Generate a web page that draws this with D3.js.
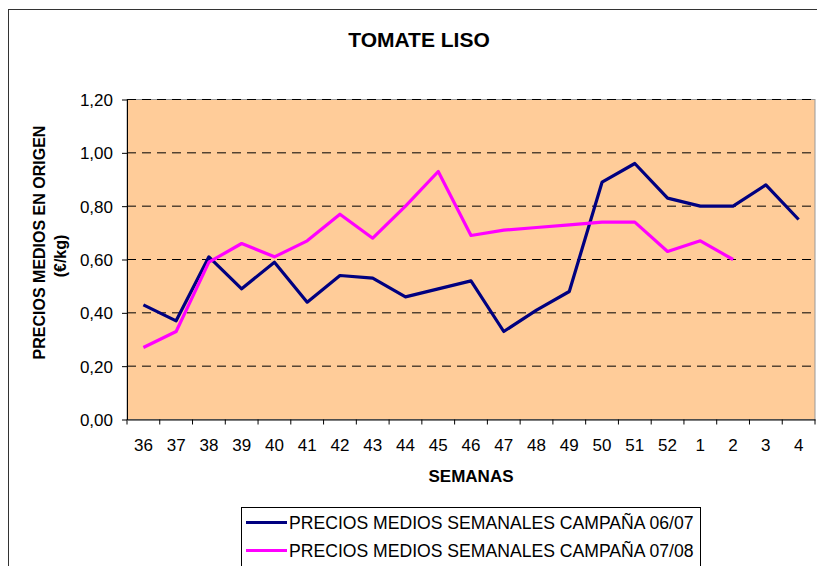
<!DOCTYPE html>
<html>
<head>
<meta charset="utf-8">
<script src="https://cdn.jsdelivr.net/npm/d3@7"></script>
<style>
  body { margin: 0; background: #fff; }
  svg { display: block; font-family: "Liberation Sans", Arial, sans-serif; }
</style>
</head>
<body>
<div class="g-graphic"></div>
<script>
var weeks = ["36","37","38","39","40","41","42","43","44","45","46","47","48","49","50","51","52","1","2","3","4"];
var campana0607 = [0.43,0.37,0.61,0.49,0.59,0.44,0.54,0.53,0.46,0.49,0.52,0.33,0.41,0.48,0.89,0.96,0.83,0.80,0.80,0.88,0.75];
var campana0708 = [0.27,0.33,0.59,0.66,0.61,0.67,0.77,0.68,0.80,0.93,0.69,0.71,0.72,0.73,0.74,0.74,0.63,0.67,0.60,null,null];
var yTicks = [0,0.2,0.4,0.6,0.8,1.0,1.2];
var seriesNames = ["PRECIOS MEDIOS SEMANALES CAMPAÑA 06/07","PRECIOS MEDIOS SEMANALES CAMPAÑA 07/08"];
var seriesColors = ["#000080","#ff00ff"];

(function(d3) {
    "use strict";

    var margin = {
        top: 99.5,
        right: 2,
        bottom: 146.5,
        left: 127
    },
    W = 817,
    H = 566,
    width = W - margin.left - margin.right,
    height = H - margin.top - margin.bottom;

    var formatComma = function(d) { return d3.format(".2f")(d).replace(".", ","); };

    var svg = d3.select(".g-graphic").append("svg")
        .attr("width", W)
        .attr("height", H);

    // outer chart border (right/bottom run off the picture)
    svg.append("rect")
        .attr("x", 8.5).attr("y", 9.5)
        .attr("width", W + 20).attr("height", H + 20)
        .attr("fill", "#fff").attr("stroke", "#333");

    svg.append("text")
        .attr("x", 419).attr("y", 46.5)
        .attr("text-anchor", "middle")
        .style("font-size", "21px").style("font-weight", "bold")
        .text("TOMATE LISO");

    var x = d3.scaleBand().domain(weeks).range([0, width]);
    var y = d3.scaleLinear().domain([0, 1.2]).range([height, 0]);

    var g = svg.append("g")
        .attr("transform", "translate(" + margin.left + "," + margin.top + ")");

    g.append("rect")
        .attr("width", width).attr("height", height)
        .attr("fill", "#ffcc99").attr("stroke", "#999").attr("stroke-width", 1);

    // gridlines
    g.append("g").selectAll("line")
        .data(yTicks.filter(function(d) { return d > 0; }))
        .enter().append("line")
        .attr("x1", 0).attr("x2", width)
        .attr("y1", function(d) { return y(d); })
        .attr("y2", function(d) { return y(d); })
        .attr("stroke", "#000").attr("stroke-dasharray", "9,6");

    // y axis
    var yAxis = d3.axisLeft(y).tickValues(yTicks).tickFormat(formatComma)
        .tickSize(5).tickSizeOuter(0).tickPadding(9);
    g.append("g").attr("class", "y axis").call(yAxis)
        .call(function(s) {
            s.select(".domain").attr("stroke", "#000");
            s.selectAll("text").style("font-size", "17px").attr("fill", "#000").attr("dy", "0.36em");
        });

    // x axis: labels centred in bands, ticks on band edges
    var xAxis = d3.axisBottom(x).tickSize(0).tickSizeOuter(0);
    g.append("g").attr("class", "x axis")
        .attr("transform", "translate(0," + height + ")")
        .call(xAxis)
        .call(function(s) {
            s.select(".domain").attr("stroke", "#000");
            s.selectAll("text").style("font-size", "17px").attr("fill", "#000")
                .attr("y", 31.5).attr("dy", null);
        });

    var edges = weeks.map(function(w) { return x(w); }).concat([width]);
    g.append("g").selectAll("line")
        .data(edges)
        .enter().append("line")
        .attr("x1", function(d) { return d; }).attr("x2", function(d) { return d; })
        .attr("y1", height).attr("y2", height + 5)
        .attr("stroke", "#000");

    // series lines
    var line = d3.line()
        .defined(function(d) { return d.v !== null; })
        .x(function(d) { return x(d.w) + x.bandwidth() / 2; })
        .y(function(d) { return y(d.v); });

    [campana0607, campana0708].forEach(function(vals, i) {
        var pts = weeks.map(function(w, k) { return { w: w, v: vals[k] }; });
        g.append("path")
            .datum(pts)
            .attr("d", line)
            .attr("fill", "none")
            .attr("stroke", seriesColors[i])
            .attr("stroke-width", 3.2)
            .attr("stroke-linejoin", "round");
    });

    // axis titles
    svg.append("text")
        .attr("x", 471).attr("y", 481.5)
        .attr("text-anchor", "middle")
        .style("font-size", "17px").style("font-weight", "bold")
        .text("SEMANAS");

    svg.append("text")
        .attr("transform", "translate(45,242.5) rotate(-90)")
        .attr("text-anchor", "middle")
        .style("font-size", "16px").style("font-weight", "bold")
        .text("PRECIOS MEDIOS EN ORIGEN");
    svg.append("text")
        .attr("transform", "translate(66,256) rotate(-90)")
        .attr("text-anchor", "middle")
        .style("font-size", "16px").style("font-weight", "bold")
        .text("(€/kg)");

    // legend
    var legend = svg.append("g");
    legend.append("rect")
        .attr("x", 241.5).attr("y", 507.5)
        .attr("width", 459).attr("height", 80)
        .attr("fill", "#fff").attr("stroke", "#000");

    var rows = legend.selectAll(".row")
        .data(seriesNames)
        .enter().append("g")
        .attr("class", "row")
        .attr("transform", function(d, i) { return "translate(0," + (522.5 + i * 28) + ")"; });
    rows.append("line")
        .attr("x1", 246).attr("x2", 287)
        .attr("stroke", function(d, i) { return seriesColors[i]; })
        .attr("stroke-width", 3.2);
    rows.append("text")
        .attr("x", 289).attr("y", 6)
        .style("font-size", "17.6px")
        .text(function(d) { return d; });

})(d3);
</script>
</body>
</html>
